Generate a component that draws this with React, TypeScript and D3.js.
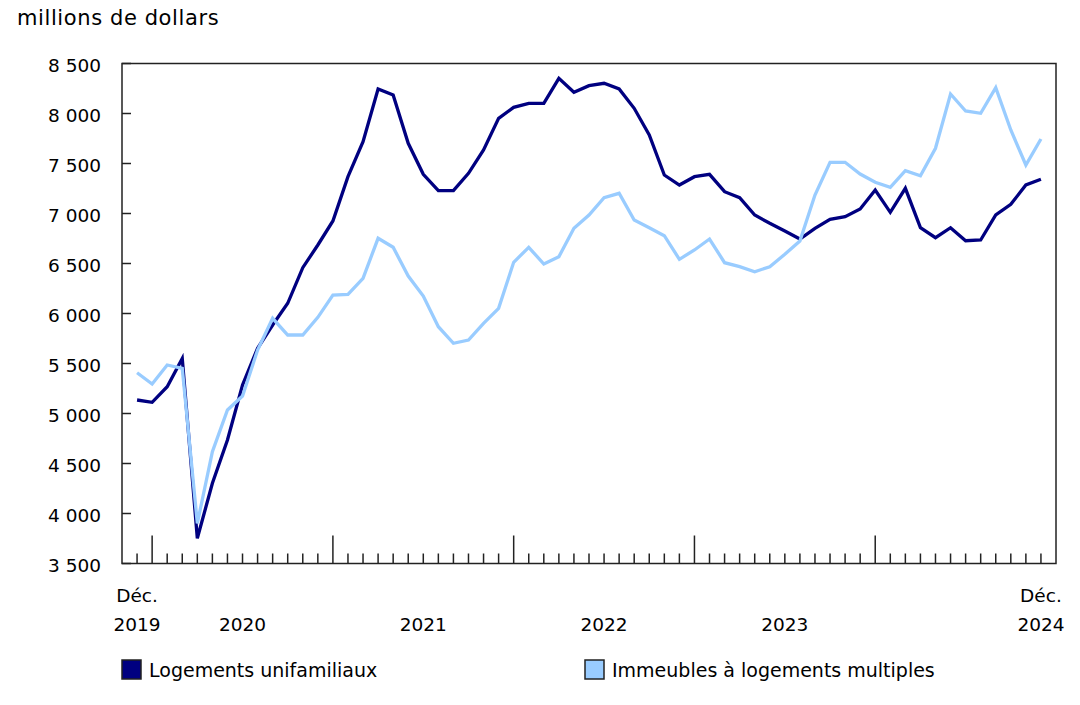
import React from "react";
import * as d3 from "d3";

const startYear = 2019;
const startMonth = 11; // December (0-based)

const singleFamily: number[] = [
  5135, 5112, 5268, 5550, 3752, 4302, 4735, 5285, 5652, 5885,
  6102, 6458, 6685, 6925, 7368, 7718, 8245, 8185, 7702, 7392,
  7228, 7228, 7402, 7635, 7952, 8062, 8102, 8102, 8352, 8212,
  8278, 8302, 8245, 8052, 7785, 7385, 7285, 7368, 7392, 7218,
  7158, 6985, 6902, 6825, 6745, 6852, 6942, 6968, 7045, 7235,
  7012, 7252, 6858, 6758, 6858, 6728, 6735, 6985, 7092, 7285,
  7342,
];

const multiUnit: number[] = [
  5408, 5295, 5485, 5452, 3902, 4618, 5035, 5175, 5635, 5952,
  5785, 5785, 5962, 6185, 6192, 6352, 6752, 6662, 6375, 6175,
  5868, 5702, 5735, 5902, 6052, 6512, 6662, 6495, 6568, 6852,
  6985, 7158, 7202, 6935, 6858, 6778, 6542, 6635, 6745, 6508,
  6468, 6418, 6468, 6592, 6725, 7185, 7512, 7512, 7395, 7312,
  7262, 7428, 7378, 7652, 8195, 8025, 8002, 8258, 7835, 7485,
  7745,
];

const yTicks: number[] = [3500, 4000, 4500, 5000, 5500, 6000, 6500, 7000, 7500, 8000, 8500];
const yearLabels: string[] = ["2020", "2021", "2022", "2023"];
const seriesNames: string[] = ["Logements unifamiliaux", "Immeubles à logements multiples"];
const seriesColors: string[] = ["#000080", "#99ccff"];
const unitLabel = "millions de dollars";

const W = 1080;
const H = 705;
const left = 122;
const right = 1056;
const top = 63.5;
const bottom = 563.5;
const FONT = "'DejaVu Sans', Verdana, sans-serif";

function fmt(v: number): string {
  const s = String(v);
  return s.length > 3 ? s.slice(0, s.length - 3) + " " + s.slice(-3) : s;
}

export default function App() {
  const n = singleFamily.length;
  const x = d3.scaleLinear().domain([-1, n]).range([left, right]);
  const y = d3.scaleLinear().domain([3500, 8500]).range([bottom, top]);

  const line = d3
    .line<number>()
    .x((_, i) => x(i))
    .y((d) => y(d));

  const monthTicks = d3.range(0, n);
  const isJan = (i: number) => (startMonth + i) % 12 === 0;
  const janIdx = monthTicks.filter(isJan);

  return (
    <svg
      width={W}
      height={H}
      style={{ position: "absolute", left: 0, top: 0, background: "#fff" }}
      fontFamily={FONT}
    >
      <text x={17} y={25} fontSize={21} letterSpacing={0.6} fill="#000">
        {unitLabel}
      </text>

      {/* frame */}
      <rect x={left} y={top} width={right - left} height={bottom - top} fill="none" stroke="#222" strokeWidth={1.5} />

      {/* y ticks & labels */}
      {yTicks.map((t) => (
        <g key={t}>
          <line x1={left} x2={left + 9} y1={y(t)} y2={y(t)} stroke="#222" strokeWidth={1.5} />
          <text x={101} y={y(t)} dy="0.45em" textAnchor="end" fontSize={18.5} fill="#000">
            {fmt(t)}
          </text>
        </g>
      ))}

      {/* x ticks */}
      {monthTicks.map((i) => (
        <line
          key={i}
          x1={x(i)}
          x2={x(i)}
          y1={bottom}
          y2={isJan(i) ? bottom - 28 : bottom - 10}
          stroke="#222"
          strokeWidth={1.5}
        />
      ))}

      {/* x labels */}
      <text x={x(0)} y={602} textAnchor="middle" fontSize={18.5}>Déc.</text>
      <text x={x(0)} y={631} textAnchor="middle" fontSize={18.5}>{String(startYear)}</text>
      <text x={x(n - 1)} y={602} textAnchor="middle" fontSize={18.5}>Déc.</text>
      <text x={x(n - 1)} y={631} textAnchor="middle" fontSize={18.5}>{String(startYear + 5)}</text>
      {yearLabels.map((lab, k) => (
        <text key={lab} x={(x(janIdx[k]) + x(janIdx[k] + 12)) / 2} y={631} textAnchor="middle" fontSize={18.5}>
          {lab}
        </text>
      ))}

      {/* lines */}
      <path d={line(singleFamily) || ""} fill="none" stroke={seriesColors[0]} strokeWidth={3.3} strokeLinejoin="miter" />
      <path d={line(multiUnit) || ""} fill="none" stroke={seriesColors[1]} strokeWidth={3.3} strokeLinejoin="miter" />

      {/* legend */}
      {seriesNames.map((name, k) => {
        const lx = k === 0 ? 122 : 585;
        return (
          <g key={name}>
            <rect x={lx} y={660} width={19} height={19} fill={seriesColors[k]} stroke="#222" strokeWidth={1.5} />
            <text x={lx + 27} y={677} fontSize={19}>
              {name}
            </text>
          </g>
        );
      })}
    </svg>
  );
}
